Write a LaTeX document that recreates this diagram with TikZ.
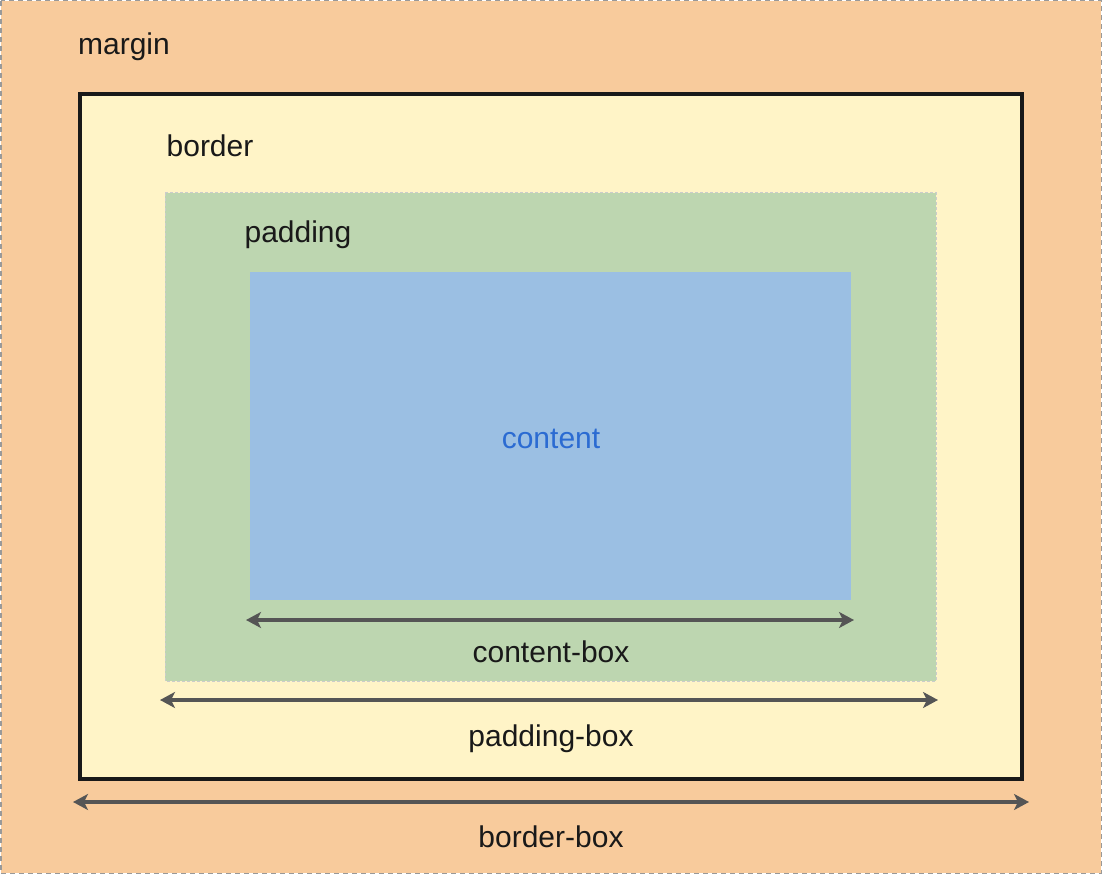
\documentclass[tikz,border=0pt]{standalone}
\usepackage{fontspec}
\setmainfont{Liberation Sans}
\usetikzlibrary{arrows.meta}

\definecolor{marginfill}{HTML}{F8CB9C}
\definecolor{borderfill}{HTML}{FFF4C7}
\definecolor{paddingfill}{HTML}{BDD6B0}
\definecolor{contentfill}{HTML}{9BBFE3}
\definecolor{contenttext}{HTML}{2B6BD2}
\definecolor{arrowgray}{HTML}{555555}

\begin{document}
\begin{tikzpicture}[x=1pt,y=-1pt,
  lbl/.style={font=\fontsize{30}{36}\selectfont,text=black!90},
  dimarrow/.style={arrowgray,line width=4pt,{Stealth[length=15pt,width=16pt,inset=4pt]}-{Stealth[length=15pt,width=16pt,inset=4pt]}}]
\useasboundingbox (0,0) rectangle (1102,874);
% boxes
\draw [fill=marginfill,draw=black!40,line width=1.5pt,dash pattern=on 5pt off 4pt] (0.75,0.75) rectangle (1101.25,873.25);
\draw [fill=borderfill,draw=black!90,line width=3.5pt] (80,94) rectangle (1022,779);
\draw [fill=paddingfill,draw=black!20,line width=1pt,dash pattern=on 3pt off 2pt] (165,193) rectangle (936,681);
\fill [contentfill] (250,272) rectangle (851,600);
% labels
\node [lbl] (margin) at (124,47) {margin};
\node [lbl] (border) at (210,146) {border};
\node [lbl] (padding) at (298,235) {padding};
\node [lbl,text=contenttext] (content) at (551,439) {content};
% dimension arrows
\coordinate (cl) at (246,620);
\coordinate (cr) at (854,620);
\coordinate (pl) at (160,700);
\coordinate (pr) at (938,700);
\coordinate (bl) at (73,802);
\coordinate (br) at (1029,802);
\draw [dimarrow] (cl) -- (cr);
\draw [dimarrow] (pl) -- (pr);
\draw [dimarrow] (bl) -- (br);
\node [lbl] (contentbox) at (551,652) {content-box};
\node [lbl] (paddingbox) at (551,739) {padding-box};
\node [lbl] (borderbox) at (551,837) {border-box};
\end{tikzpicture}
\end{document}
